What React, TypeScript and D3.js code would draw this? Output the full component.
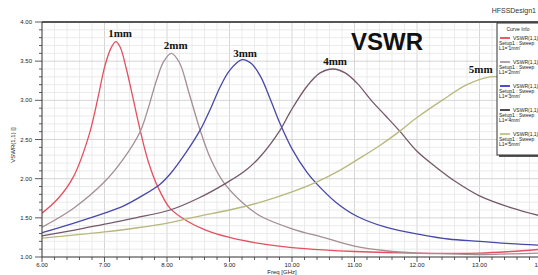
import React from "react";
import * as d3 from "d3";

const W = 538;
const H = 275;

// [freq GHz, VSWR]
const curve1mm: [number, number][] = [
  [6.0, 1.56], [6.25, 1.74], [6.5, 2.02], [6.75, 2.55], [6.9, 3.05], [7.0, 3.42],
  [7.1, 3.66], [7.18, 3.75], [7.25, 3.68], [7.35, 3.4], [7.45, 3.05], [7.57, 2.62],
  [7.7, 2.22], [7.85, 1.9], [8.05, 1.62], [8.3, 1.47], [8.6, 1.35], [9.0, 1.25],
  [9.5, 1.17], [10.0, 1.12], [10.5, 1.09], [11.0, 1.07], [12.0, 1.05], [13.0, 1.05],
  [13.5, 1.07], [14.0, 1.1],
];
const curve2mm: [number, number][] = [
  [6.0, 1.38], [6.5, 1.62], [7.0, 1.96], [7.3, 2.25], [7.57, 2.6], [7.7, 2.9],
  [7.83, 3.25], [7.95, 3.5], [8.07, 3.6], [8.2, 3.48], [8.35, 3.1], [8.53, 2.62],
  [8.7, 2.25], [8.9, 1.96], [9.2, 1.7], [9.5, 1.52], [10.0, 1.36], [10.5, 1.25],
  [11.0, 1.14], [11.5, 1.08], [12.0, 1.05], [12.5, 1.04], [13.0, 1.03], [13.5, 1.04],
  [14.0, 1.05],
];
const curve3mm: [number, number][] = [
  [6.0, 1.31], [6.5, 1.43], [7.0, 1.56], [7.3, 1.65], [7.6, 1.78], [7.89, 1.93],
  [8.05, 2.06], [8.3, 2.33], [8.53, 2.62], [8.7, 2.9], [8.85, 3.17], [9.0, 3.38],
  [9.2, 3.52], [9.35, 3.47], [9.5, 3.3], [9.65, 3.02], [9.81, 2.7], [10.0, 2.38],
  [10.24, 2.08], [10.4, 1.93], [10.7, 1.7], [11.04, 1.52], [11.5, 1.38], [12.1, 1.28],
  [12.5, 1.23], [13.0, 1.2], [13.5, 1.17], [14.0, 1.15],
];
const curve4mm: [number, number][] = [
  [6.0, 1.27], [6.5, 1.34], [7.0, 1.42], [7.5, 1.5], [8.05, 1.6], [8.5, 1.75],
  [8.96, 1.95], [9.25, 2.1], [9.49, 2.28], [9.81, 2.62], [9.97, 2.85], [10.24, 3.18],
  [10.45, 3.35], [10.66, 3.4], [10.85, 3.35], [11.04, 3.22], [11.3, 2.97], [11.5, 2.8],
  [11.73, 2.6], [12.0, 2.35], [12.3, 2.15], [12.64, 1.95], [13.0, 1.78], [13.5, 1.63],
  [14.0, 1.52],
];
const curve5mm: [number, number][] = [
  [6.0, 1.24], [6.5, 1.28], [7.0, 1.32], [7.5, 1.37], [8.05, 1.44], [8.5, 1.52],
  [9.0, 1.6], [9.5, 1.7], [10.0, 1.83], [10.4, 1.96], [10.75, 2.1], [11.04, 2.24],
  [11.4, 2.42], [11.73, 2.61], [12.0, 2.78], [12.4, 3.0], [12.8, 3.2], [13.17, 3.3],
  [13.5, 3.28], [14.0, 3.15],
];

const seriesNames = ["1mm", "2mm", "3mm", "4mm", "5mm"];
const seriesColors = ["#e4505f", "#a48e94", "#4848a8", "#74586a", "#b8b87c"];
const legendColors = ["#e83040", "#a08890", "#2020c8", "#202020", "#b8b878"];
// label anchor (freq, VSWR) for each curve name
const labelPos: [number, number][] = [
  [7.25, 3.81], [8.14, 3.655], [9.25, 3.55], [10.69, 3.45], [13.02, 3.35],
];
const xTicks = [6, 7, 8, 9, 10, 11, 12, 13, 14];
const yTicks = [1, 1.5, 2, 2.5, 3, 3.5, 4];

const App: React.FC = () => {
  const x = d3.scaleLinear().domain([6, 14]).range([42, 542]);
  const y = d3.scaleLinear().domain([1, 4]).range([257, 22]);
  const curves = [curve1mm, curve2mm, curve3mm, curve4mm, curve5mm];
  const line = d3
    .line<[number, number]>()
    .x((d) => x(d[0]))
    .y((d) => y(d[1]))
    .curve(d3.curveCatmullRom.alpha(0.5));

  const minorX = d3.range(6, 14.001, 0.2);
  const minorY = d3.range(1, 4.001, 0.1);
  const fmt = d3.format(".2f");

  return (
    <div style={{ position: "absolute", left: 0, top: 0 }}>
      <svg width={W} height={H} style={{ display: "block", background: "#fff" }}>
        <defs>
          <clipPath id="plot">
            <rect x={42} y={22} width={500} height={235} />
          </clipPath>
        </defs>
        {/* grid */}
        <g>
          {minorX.map((v, i) => (
            <line key={"mx" + i} x1={x(v)} x2={x(v)} y1={22} y2={257}
              stroke={i % 5 === 0 ? "#cccccc" : "#e6e6e6"} strokeWidth={0.8} />
          ))}
          {minorY.map((v, i) => (
            <line key={"my" + i} x1={42} x2={542} y1={y(v)} y2={y(v)}
              stroke={i % 5 === 0 ? "#cccccc" : "#e6e6e6"} strokeWidth={0.8} />
          ))}
        </g>
        {/* curves */}
        <g clipPath="url(#plot)">
          {curves.map((c, i) => (
            <path key={i} d={line(c) || ""} fill="none" stroke={seriesColors[i]} strokeWidth={1.3} />
          ))}
        </g>
        {/* axes */}
        <line x1={42} x2={542} y1={22} y2={22} stroke="#555" strokeWidth={2} />
        <line x1={42} x2={42} y1={22} y2={257} stroke="#444" strokeWidth={1} />
        <line x1={42} x2={542} y1={257} y2={257} stroke="#444" strokeWidth={1} />
        {minorY.map((v, i) => (
          <line key={"ty" + i} x1={i % 5 === 0 ? 35 : 39} x2={42} y1={y(v)} y2={y(v)}
            stroke="#333" strokeWidth={0.8} />
        ))}
        {minorX.map((v, i) => (
          <line key={"tx" + i} x1={x(v)} x2={x(v)} y1={257} y2={i % 5 === 0 ? 262 : 260}
            stroke="#333" strokeWidth={0.8} />
        ))}
        {yTicks.map((v) => (
          <text key={"yl" + v} x={32} y={y(v) + 2} textAnchor="end" fontSize={6}
            fontFamily="Liberation Sans, Arial, sans-serif" fill="#222">{fmt(v)}</text>
        ))}
        {xTicks.map((v) => (
          <text key={"xl" + v} x={x(v)} y={267} textAnchor="middle" fontSize={6}
            fontFamily="Liberation Sans, Arial, sans-serif" fill="#222">{fmt(v)}</text>
        ))}
        <text x={282} y={274} textAnchor="middle" fontSize={6}
          fontFamily="Liberation Sans, Arial, sans-serif" fill="#222">Freq [GHz]</text>
        <text transform="translate(15,145) rotate(-90)" textAnchor="middle" fontSize={6}
          fontFamily="Liberation Sans, Arial, sans-serif" fill="#222">VSWR(1,1) []</text>
        <text x={536} y={13} textAnchor="end" fontSize={7}
          fontFamily="Liberation Sans, Arial, sans-serif" fill="#333">HFSSDesign1</text>
        {/* big title */}
        <text x={351} y={50} fontSize={24} fontWeight="bold"
          fontFamily="Liberation Sans, Arial, sans-serif" fill="#111">VSWR</text>
        {/* curve labels */}
        {seriesNames.map((n, i) => (
          <text key={"lb" + n} x={x(labelPos[i][0])} y={y(labelPos[i][1])}
            textAnchor="middle" fontSize={11} fontWeight="bold"
            fontFamily="Liberation Serif, Times New Roman, serif" fill="#111">{n}</text>
        ))}
        {/* legend */}
        <g fontFamily="Liberation Sans, Arial, sans-serif">
          <rect x={499} y={25} width={45} height={132} fill="#555" />
          <rect x={497} y={23} width={45} height={132} fill="#fff" stroke="#333" strokeWidth={1} />
          <text x={518} y={31} textAnchor="middle" fontSize={5} fill="#222">Curve Info</text>
          {seriesNames.map((n, i) => {
            const yy = 38 + i * 24;
            return (
              <g key={"lg" + n}>
                <line x1={500} x2={510} y1={yy} y2={yy} stroke={legendColors[i]} strokeWidth={1.6} />
                <text x={513} y={yy + 1.8} fontSize={5} fill="#222">VSWR(1,1)</text>
                <text x={499} y={yy + 6.5} fontSize={5} fill="#222">Setup1 : Sweep</text>
                <text x={499} y={yy + 11.5} fontSize={5} fill="#222">{`L1='${n}'`}</text>
              </g>
            );
          })}
        </g>
      </svg>
    </div>
  );
};

export default App;
